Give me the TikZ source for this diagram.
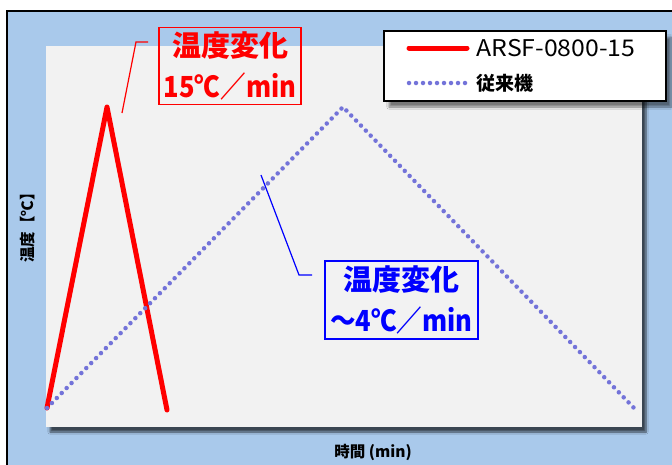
\documentclass[tikz,border=0pt]{standalone}
\usepackage{fontspec}
\setmainfont{Noto Sans CJK JP}
\newfontfamily\narrowjp{Noto Sans CJK JP}[FakeStretch=0.88]
\newfontfamily\widejp{Noto Sans CJK JP}[FakeStretch=1.08]
\usetikzlibrary{positioning, shadows.blur}
\definecolor{frameblue}{HTML}{A9C9EB}
\definecolor{plotgray}{HTML}{F2F2F2}
\definecolor{dotblue}{HTML}{7373D9}
\definecolor{rateblue}{HTML}{0000FF}

\begin{document}
\begin{tikzpicture}[x=1pt, y=-1pt]
\tikzstyle{rateBox} = [rectangle, line width=1.5pt, align=center, inner sep=2pt, font=\bfseries\fontsize{29}{41}\selectfont]
\tikzstyle{legendBox} = [rectangle, draw=black, line width=1.8pt, fill=white, minimum width=282pt, minimum height=70pt, blur shadow={shadow xshift=5pt, shadow yshift=-6pt, shadow blur steps=8, shadow opacity=50}]
\tikzstyle{fastCurve} = [red, line width=5pt, line join=round, line cap=round]
\tikzstyle{slowCurve} = [dotblue, line width=4.5pt, line cap=round, dash pattern=on 0pt off 7pt]
\tikzstyle{axisLabel} = [font=\bfseries\fontsize{15.5}{17}\selectfont]

\useasboundingbox (0,0) rectangle (672,464);
\clip (0,0) rectangle (672,464);
\fill[white] (0,0) rectangle (672,464);
\draw[line width=2.5pt, fill=frameblue] (7,11) rectangle (700,500);
\fill[plotgray, blur shadow={shadow xshift=4pt, shadow yshift=-5pt, shadow blur steps=6, shadow opacity=65}] (46,46) rectangle (642,427);

% curve points
\coordinate (origin) at (47,408);
\coordinate (fastPeak) at (107,107);
\coordinate (fastEnd) at (167,410);
\coordinate (slowPeak) at (343,107);
\coordinate (slowEnd) at (634,408);

\draw[fastCurve] (origin) -- (fastPeak) -- (fastEnd);
\draw[slowCurve] (origin) -- (slowPeak) -- (slowEnd);

% rate labels
\node (fastRate) [rateBox, draw=red, text=red, minimum width=142pt, minimum height=77pt] at (230,66) {温度変化\\{\narrowjp\bfseries 15℃／min}};
\node (slowRate) [rateBox, draw=rateblue, text=rateblue, minimum width=153pt, minimum height=78pt] at (401.5,300) {温度変化\\{\narrowjp\bfseries ～4℃／min}};

\coordinate (fastTick) at (122,113);
\coordinate (fastBend) at (136,42);
\coordinate (fastTail) at (148,42);
\draw[red, line width=1.2pt] (fastTick) -- (fastBend) -- (fastTail);

\coordinate (slowTick) at (261,175);
\coordinate (slowBend) at (299,275);
\coordinate (slowTail) at (312,275);
\draw[rateblue, line width=1.2pt] (slowTick) -- (slowBend) -- (slowTail);

% legend
\node (legend) [legendBox] at (525,66) {};
\node (fastName) [anchor=west, font=\widejp\fontsize{23}{25}\selectfont] at (473,48) {ARSF-0800-15};
\node (slowName) [anchor=west, font=\bfseries\fontsize{19}{21}\selectfont] at (473,83) {従来機};
\draw[fastCurve] ([xshift=-64pt]fastName.west) -- ([xshift=-6pt]fastName.west);
\draw[slowCurve] ([xshift=-64pt]slowName.west) -- ([xshift=-6pt]slowName.west);

% axis titles
\node (yTitle) [axisLabel, rotate=90] at (28,224) {温度【℃】};
\node (xTitle) [axisLabel] at (373,452) {時間 (min)};

\end{tikzpicture}
\end{document}
